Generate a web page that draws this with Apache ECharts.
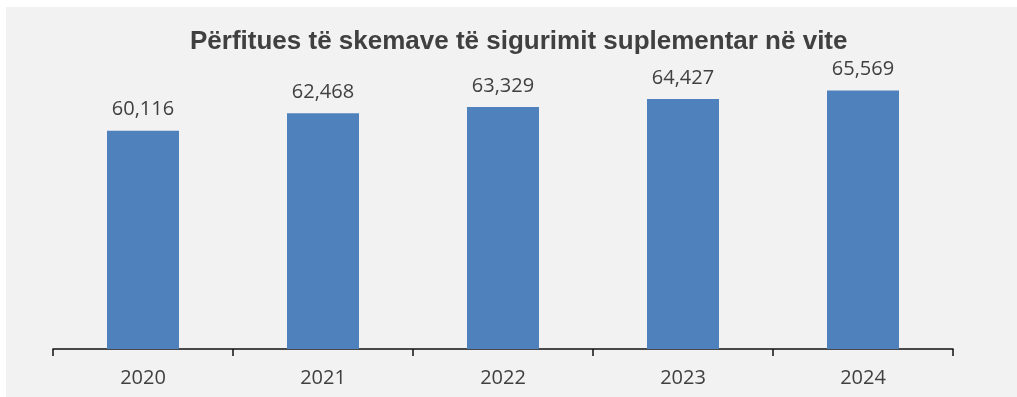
<!DOCTYPE html>
<html>
<head>
<meta charset="utf-8">
<script src="https://cdn.jsdelivr.net/npm/echarts@6/dist/echarts.min.js"></script>
<style>
  html, body { margin: 0; padding: 0; background: #f2f2f2; overflow: hidden; }
  #chart { position: absolute; left: 6px; top: 7px; width: 1011px; height: 390px; }
  .edge { position: absolute; background: #ffffff; }
</style>
</head>
<body>
<div class="edge" style="left:0;top:0;width:100%;height:7px"></div>
<div class="edge" style="left:0;top:0;width:6px;height:100%"></div>
<div id="chart"></div>
<script>
const years = ['2020', '2021', '2022', '2023', '2024']
const beneficiaries = [60116, 62468, 63329, 64427, 65569]
const titleText = 'Përfitues të skemave të sigurimit suplementar në vite'

const chart = echarts.init(document.getElementById('chart'))
chart.setOption({
  backgroundColor: '#f2f2f2',
  animation: false,
  title: {
    text: titleText,
    left: 179,
    top: 17,
    textStyle: {
      fontFamily: 'Liberation Sans, Arial, sans-serif',
      fontWeight: 'bold',
      fontSize: 26,
      color: '#404040'
    }
  },
  grid: {
    left: 47,
    right: 64,
    top: 51,
    bottom: 48
  },
  xAxis: {
    type: 'category',
    data: years,
    axisLine: { lineStyle: { color: '#111111', width: 1.5 } },
    axisTick: { show: true, alignWithLabel: false, length: 7, lineStyle: { color: '#111111', width: 1.5 } },
    axisLabel: {
      margin: 19,
      fontFamily: 'Open Sans, sans-serif',
      fontSize: 20,
      color: '#404040'
    }
  },
  yAxis: {
    type: 'value',
    min: 30400,
    max: 70000,
    show: false
  },
  series: [
    {
      type: 'bar',
      data: beneficiaries,
      barWidth: '40%',
      itemStyle: { color: '#4f81bd' },
      label: {
        show: true,
        position: 'top',
        distance: 11,
        fontFamily: 'Open Sans, sans-serif',
        fontSize: 20,
        color: '#404040',
        formatter: p => p.value.toLocaleString('en-US')
      }
    }
  ]
})
</script>
</body>
</html>
